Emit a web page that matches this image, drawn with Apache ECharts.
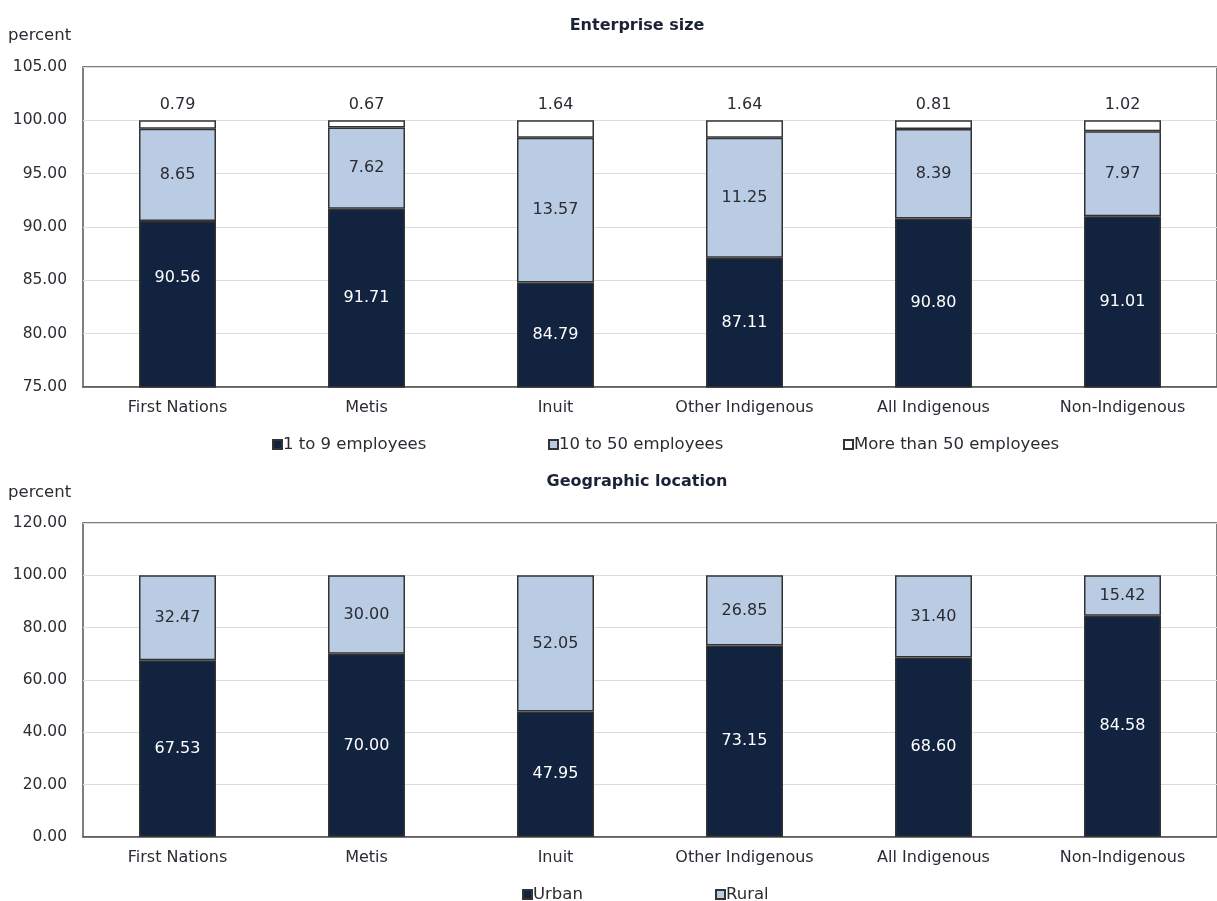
<!DOCTYPE html>
<html>
<head>
<meta charset="utf-8">
<script src="https://cdn.jsdelivr.net/npm/echarts@6/dist/echarts.min.js"></script>
<style>html,body{margin:0;padding:0;background:#fff}#c{width:1217px;height:901px}</style>
</head>
<body>
<div id="c"></div>
<script>
// === 資料 ===
const cats=['First Nations','Metis','Inuit','Other Indigenous','All Indigenous','Non-Indigenous'];
const small=[90.56,91.71,84.79,87.11,90.80,91.01];
const medium=[8.65,7.62,13.57,11.25,8.39,7.97];
const large=[0.79,0.67,1.64,1.64,0.81,1.02];
const urban=[67.53,70.00,47.95,73.15,68.60,84.58];
const rural=[32.47,30.00,52.05,26.85,31.40,15.42];

// === 顏色 ===
const NAVY='#12233f',LIGHT='#b9cce4',WHITE='#ffffff',EDGE='#333333',TXT='#2b2b33';
const FONT='"DejaVu Sans", Verdana, sans-serif';

function fmt2(p){return Number(p.value).toFixed(2)}

function bar(name,data,color,xi,lblColor,pos){
  return {
    name:name,type:'bar',stack:'s'+xi,xAxisIndex:xi,yAxisIndex:xi,barWidth:77,
    data:data,
    itemStyle:{color:color,borderColor:EDGE,borderWidth:1.5},
    label:{show:true,position:pos||'inside',formatter:fmt2,color:lblColor,fontSize:16,fontFamily:FONT,distance:7},
    emphasis:{disabled:true}
  };
}

function xAx(gi){
  return {type:'category',gridIndex:gi,data:cats,
    axisLine:{lineStyle:{color:'#555',width:1.5}},axisTick:{show:false},
    axisLabel:{color:TXT,fontSize:16,fontFamily:FONT,margin:13}};
}
function yAx(gi,min,max,step){
  return {type:'value',gridIndex:gi,min:min,max:max,interval:step,
    axisLine:{show:false},axisTick:{show:false},
    splitLine:{lineStyle:{color:'#dcdcdc'}},
    axisLabel:{color:TXT,fontSize:15.5,fontFamily:FONT,margin:16,formatter:function(v){return v.toFixed(2)}}};
}
function leg(name,left,top){
  return {data:[name],left:left,top:top,icon:'rect',itemWidth:9,itemHeight:9,itemGap:0,
    selectedMode:false,textStyle:{color:TXT,fontSize:16.5,fontFamily:FONT,padding:[0,0,0,-4]}};
}
function ttl(text,left,top,bold,align){
  return {text:text,left:left,top:top,textAlign:align||'left',padding:0,
    textStyle:{fontSize:bold?16:16.5,fontFamily:FONT,fontWeight:bold?'bold':'normal',color:bold?'#1c2236':TXT}};
}

// 第一個標籤在原圖位置較高
const smallData=small.map(function(v,i){return i===0?{value:v,label:{offset:[0,-27]}}:v});

const option={
  animation:false,
  title:[
    ttl('percent',8,27),
    ttl('Enterprise size',637,18,true,'center'),
    ttl('percent',8,484),
    ttl('Geographic location',637,474,true,'center')
  ],
  legend:[
    leg('1 to 9 employees',267,431),
    leg('10 to 50 employees',543,431),
    leg('More than 50 employees',838,431),
    leg('Urban',517,881),
    leg('Rural',710,881)
  ],
  grid:[
    {left:83,top:67,width:1146,height:320,show:true,borderColor:'#555',borderWidth:1.5,backgroundColor:'transparent'},
    {left:83,top:523,width:1146,height:314,show:true,borderColor:'#555',borderWidth:1.5,backgroundColor:'transparent'}
  ],
  xAxis:[xAx(0),xAx(1)],
  yAxis:[yAx(0,75,105,5),yAx(1,0,120,20)],
  series:[
    bar('1 to 9 employees',smallData,NAVY,0,'#ffffff'),
    bar('10 to 50 employees',medium,LIGHT,0,TXT),
    bar('More than 50 employees',large,WHITE,0,TXT,'top'),
    bar('Urban',urban,NAVY,1,'#ffffff'),
    bar('Rural',rural,LIGHT,1,TXT)
  ]
};

const chart=echarts.init(document.getElementById('c'));
chart.setOption(option);
</script>
</body>
</html>
